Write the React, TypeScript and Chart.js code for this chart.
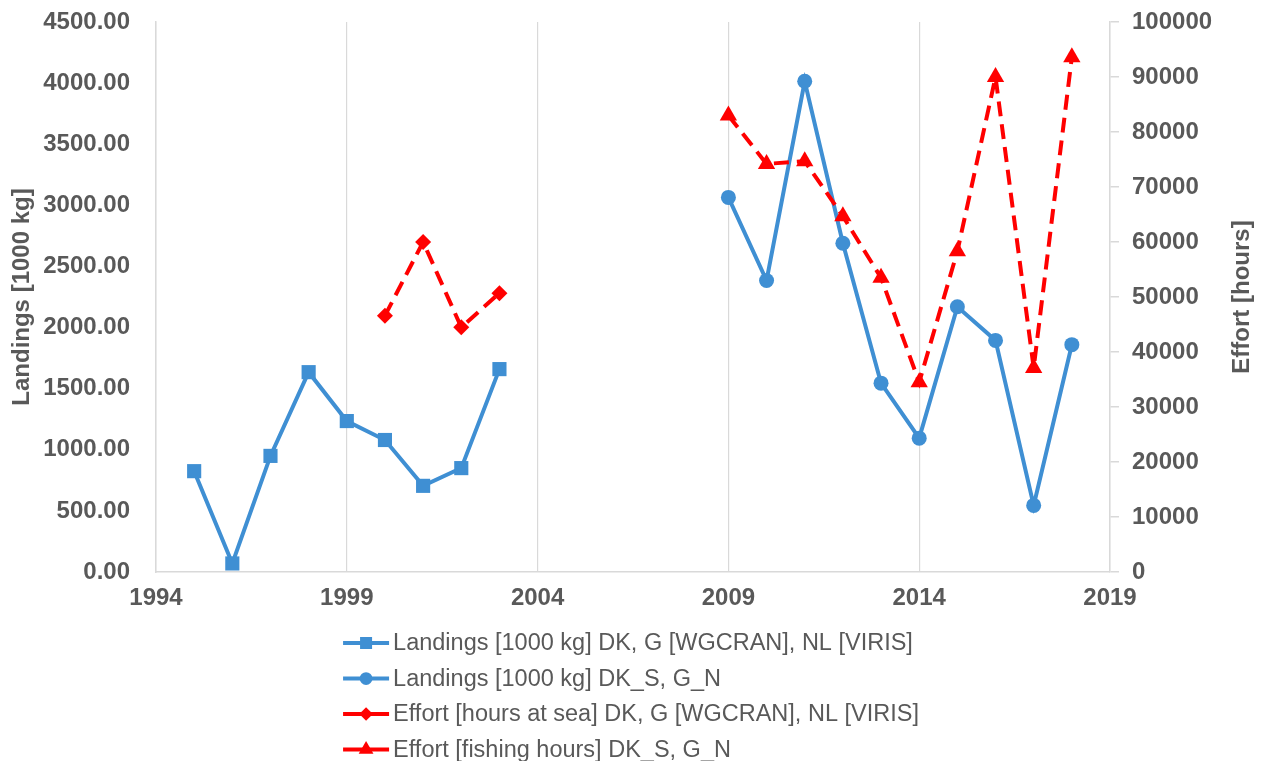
import React, { useEffect, useRef } from "react";
import { Chart, registerables } from "chart.js";
import { drawPoint } from "chart.js/helpers";

Chart.register(...registerables);

// ---- data ----
const yearsA = [1995, 1996, 1997, 1998, 1999, 2000, 2001, 2002, 2003];
const landingsA = [825, 70, 950, 1635, 1235, 1080, 705, 850, 1660];

const yearsB = [2009, 2010, 2011, 2012, 2013, 2014, 2015, 2016, 2017, 2018];
const landingsB = [3065, 2385, 4015, 2690, 1545, 1095, 2170, 1895, 545, 1860];

const yearsC = [2000, 2001, 2002, 2003];
const effortSea = [46600, 60000, 44500, 50700];

const yearsD = [2009, 2010, 2011, 2012, 2013, 2014, 2015, 2016, 2017, 2018];
const effortFishing = [83000, 74200, 74700, 64700, 53500, 34500, 58300, 90000, 37100, 93600];

const labels = [
  "Landings [1000 kg] DK, G [WGCRAN], NL [VIRIS]",
  "Landings [1000 kg] DK_S, G_N",
  "Effort [hours at sea] DK, G [WGCRAN], NL [VIRIS]",
  "Effort [fishing hours] DK_S, G_N",
];

const leftTitle = "Landings [1000 kg]";
const rightTitle = "Effort [hours]";

const xTicks = { min: 1994, max: 2019, step: 5 };
const yTicks = { min: 0, max: 4500, step: 500 };
const y1Ticks = { min: 0, max: 100000, step: 10000 };

const BLUE = "#3F8FD3";
const RED = "#FF0000";
const TEXT = "#595959";
const GRID = "#D9D9D9";
const FONT = '"Liberation Sans", Arial, sans-serif';

const toPoints = (xs: number[], ys: number[]) => xs.map((x, i) => ({ x, y: ys[i] }));

const bottomLegend = {
  id: "bottomLegend",
  afterDraw(chart: any) {
    const ctx = chart.ctx as CanvasRenderingContext2D;
    const ds = chart.data.datasets;
    const area = chart.chartArea;
    ctx.save();

    // right axis title, reading bottom-to-top
    ctx.font = `bold 24px ${FONT}`;
    ctx.fillStyle = TEXT;
    ctx.textAlign = "center";
    ctx.textBaseline = "middle";
    ctx.translate(1242, (area.top + area.bottom) / 2);
    ctx.rotate(-Math.PI / 2);
    ctx.fillText(rightTitle, 0, 0);
    ctx.setTransform(1, 0, 0, 1, 0, 0);
    ctx.scale(chart.currentDevicePixelRatio, chart.currentDevicePixelRatio);

    ctx.font = `23.5px ${FONT}`;
    let maxW = 0;
    ds.forEach((d: any) => {
      maxW = Math.max(maxW, ctx.measureText(d.label).width);
    });
    const sample = 46;
    const gapText = 4;
    const total = sample + gapText + maxW;
    const x0 = (chart.width - total) / 2;
    const top = 643;
    const rowGap = 35.5;
    ds.forEach((d: any, i: number) => {
      const y = top + i * rowGap;
      ctx.setLineDash([]);
      ctx.strokeStyle = d.borderColor;
      ctx.lineWidth = 4;
      ctx.beginPath();
      ctx.moveTo(x0, y);
      ctx.lineTo(x0 + sample, y);
      ctx.stroke();
      ctx.fillStyle = d.pointBackgroundColor;
      ctx.strokeStyle = d.pointBackgroundColor;
      drawPoint(
        ctx,
        { pointStyle: d.pointStyle, radius: d.pointRadius * 0.85, borderWidth: 0, rotation: 0 } as any,
        x0 + sample / 2,
        y
      );
      ctx.fillStyle = TEXT;
      ctx.textBaseline = "middle";
      ctx.textAlign = "left";
      ctx.font = `23.5px ${FONT}`;
      ctx.fillText(d.label, x0 + sample + gapText, y + 1);
    });
    ctx.restore();
  },
};

export default function App() {
  const ref = useRef<HTMLCanvasElement | null>(null);

  useEffect(() => {
    if (!ref.current) return;
    Chart.defaults.font.family = FONT;
    Chart.defaults.color = TEXT;
    const chart = new Chart(ref.current, {
      type: "line",
      data: {
        datasets: [
          {
            label: labels[0],
            data: toPoints(yearsA, landingsA),
            yAxisID: "y",
            borderColor: BLUE,
            backgroundColor: BLUE,
            pointBackgroundColor: BLUE,
            pointBorderColor: BLUE,
            pointBorderWidth: 0,
            borderWidth: 4,
            pointStyle: "rect",
            pointRadius: 10,
            order: 1,
          },
          {
            label: labels[1],
            data: toPoints(yearsB, landingsB),
            yAxisID: "y",
            borderColor: BLUE,
            backgroundColor: BLUE,
            pointBackgroundColor: BLUE,
            pointBorderColor: BLUE,
            pointBorderWidth: 0,
            borderWidth: 4,
            pointStyle: "circle",
            pointRadius: 7.5,
            order: 1,
          },
          {
            label: labels[2],
            data: toPoints(yearsC, effortSea),
            yAxisID: "y1",
            borderColor: RED,
            backgroundColor: RED,
            pointBackgroundColor: RED,
            pointBorderColor: RED,
            pointBorderWidth: 0,
            borderWidth: 4,
            borderDash: [15, 8],
            pointStyle: "rectRot",
            pointRadius: 8,
            order: 0,
          },
          {
            label: labels[3],
            data: toPoints(yearsD, effortFishing),
            yAxisID: "y1",
            borderColor: RED,
            backgroundColor: RED,
            pointBackgroundColor: RED,
            pointBorderColor: RED,
            pointBorderWidth: 0,
            borderWidth: 4,
            borderDash: [15, 8],
            pointStyle: "triangle",
            pointRadius: 10,
            order: 0,
          },
        ],
      } as any,
      options: {
        animation: false,
        responsive: false,
        maintainAspectRatio: false,
        layout: { padding: { left: 0, right: 0, top: 22, bottom: 149 } },
        plugins: { legend: { display: false }, tooltip: { enabled: false } },
        scales: {
          x: {
            type: "linear",
            min: xTicks.min,
            max: xTicks.max,
            afterFit: (s: any) => {
              s.height = 40;
              s.paddingLeft = 0;
              s.paddingRight = 0;
            },
            ticks: {
              stepSize: xTicks.step,
              callback: (v: any) => String(v),
              font: { size: 24, weight: "bold" },
              color: TEXT,
              padding: 12,
              maxRotation: 0,
            },
            grid: { display: true, color: GRID, lineWidth: 1.2, drawTicks: false },
            border: { display: true, color: GRID, width: 1.5 },
          },
          y: {
            type: "linear",
            position: "left",
            min: yTicks.min,
            max: yTicks.max,
            afterFit: (s: any) => {
              s.width = 156;
              s.paddingTop = 0;
              s.paddingBottom = 0;
            },
            ticks: {
              stepSize: yTicks.step,
              callback: (v: any) => Number(v).toFixed(2),
              font: { size: 24, weight: "bold" },
              color: TEXT,
              padding: 26,
            },
            grid: { display: false, drawTicks: false },
            border: { display: true, color: GRID, width: 1.5 },
            title: {
              display: true,
              text: leftTitle,
              font: { size: 24, weight: "bold" },
              color: TEXT,
              padding: { top: 8, bottom: 0 },
            },
          },
          y1: {
            type: "linear",
            position: "right",
            min: y1Ticks.min,
            max: y1Ticks.max,
            afterFit: (s: any) => {
              s.width = 152;
              s.paddingTop = 0;
              s.paddingBottom = 0;
            },
            ticks: {
              stepSize: y1Ticks.step,
              callback: (v: any) => String(v),
              font: { size: 24, weight: "bold" },
              color: TEXT,
              padding: 13,
            },
            grid: {
              display: true,
              drawOnChartArea: false,
              drawTicks: true,
              tickLength: 9,
              color: GRID,
              lineWidth: 1.5,
            },
            border: { display: true, color: GRID, width: 1.5 },
          },
        },
      } as any,
      plugins: [bottomLegend],
    });
    return () => chart.destroy();
  }, []);

  return (
    <div style={{ position: "fixed", left: 0, top: 0, width: 1262, height: 761, background: "#fff" }}>
      <canvas ref={ref} width={1262} height={761} style={{ width: 1262, height: 761 }} />
    </div>
  );
}
